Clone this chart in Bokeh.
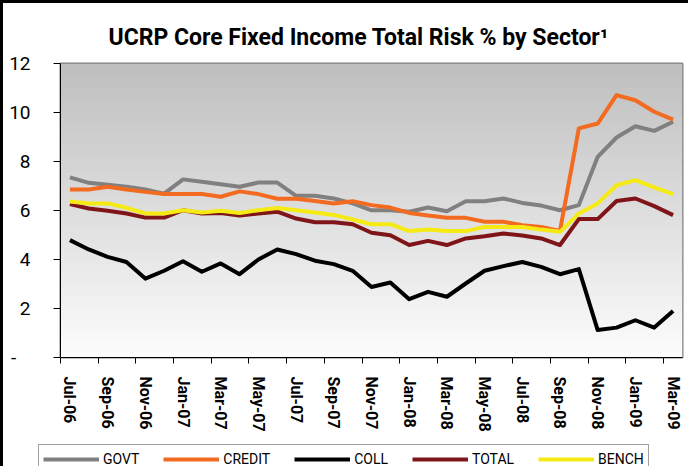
import numpy as np
from bokeh.plotting import figure
from bokeh.layouts import column, row
from bokeh.models import Range1d, FixedTicker, Legend, LegendItem, Spacer
from bokeh.embed import file_html
from bokeh.resources import INLINE

# ---------------- data ----------------
months = ["Jul-06", "Aug-06", "Sep-06", "Oct-06", "Nov-06", "Dec-06",
          "Jan-07", "Feb-07", "Mar-07", "Apr-07", "May-07", "Jun-07",
          "Jul-07", "Aug-07", "Sep-07", "Oct-07", "Nov-07", "Dec-07",
          "Jan-08", "Feb-08", "Mar-08", "Apr-08", "May-08", "Jun-08",
          "Jul-08", "Aug-08", "Sep-08", "Oct-08", "Nov-08", "Dec-08",
          "Jan-09", "Feb-09", "Mar-09"]

govt = [7.35, 7.13, 7.05, 6.97, 6.86, 6.69, 7.27, 7.17, 7.07, 6.97, 7.14, 7.14,
        6.60, 6.60, 6.49, 6.29, 6.01, 6.01, 5.95, 6.12, 5.97, 6.38, 6.38, 6.49,
        6.31, 6.20, 6.01, 6.22, 8.19, 8.98, 9.44, 9.25, 9.62]
credit = [6.86, 6.86, 6.97, 6.86, 6.76, 6.67, 6.67, 6.67, 6.56, 6.78, 6.67, 6.48,
          6.48, 6.39, 6.29, 6.38, 6.22, 6.12, 5.90, 5.80, 5.70, 5.70, 5.54, 5.54,
          5.40, 5.33, 5.17, 9.35, 9.55, 10.71, 10.50, 10.03, 9.71]
coll = [4.79, 4.41, 4.11, 3.90, 3.22, 3.54, 3.93, 3.50, 3.84, 3.40, 4.00, 4.41,
        4.22, 3.95, 3.81, 3.54, 2.88, 3.06, 2.38, 2.68, 2.48, 3.02, 3.54, 3.73,
        3.90, 3.70, 3.40, 3.61, 1.12, 1.22, 1.52, 1.22, 1.90]
total = [6.26, 6.08, 5.99, 5.88, 5.71, 5.71, 6.01, 5.88, 5.90, 5.80, 5.88, 5.95,
         5.67, 5.52, 5.52, 5.44, 5.09, 4.99, 4.59, 4.76, 4.59, 4.86, 4.95, 5.06,
         4.98, 4.86, 4.59, 5.65, 5.65, 6.39, 6.49, 6.18, 5.81]
bench = [6.37, 6.29, 6.29, 6.11, 5.88, 5.88, 6.01, 5.92, 5.99, 5.90, 6.01, 6.10,
         6.01, 5.92, 5.82, 5.63, 5.44, 5.44, 5.16, 5.22, 5.16, 5.16, 5.33, 5.33,
         5.33, 5.22, 5.13, 5.88, 6.29, 7.03, 7.24, 6.94, 6.67]

series_names = ["GOVT", "CREDIT", "COLL", "TOTAL", "BENCH"]
series_values = [govt, credit, coll, total, bench]
series_colors = ["#808080", "#F26B21", "#000000", "#7F1518", "#F5EA14"]

y_ticks = [0, 2, 4, 6, 8, 10, 12]
y_tick_labels = ["-\u00a0\u00a0\u00a0", "2", "4", "6", "8", "10", "12"]
title_text = "UCRP Core Fixed Income Total Risk % by Sector\u00b9"

# ---------------- main figure ----------------
W, HM = 685, 441
n = len(months)
xs = list(range(n))

p = figure(width=W, height=HM, output_backend="svg", toolbar_location=None,
           x_range=Range1d(-0.5, n - 0.5), y_range=Range1d(0, 12),
           min_border_left=57, min_border_right=6,
           min_border_top=60, min_border_bottom=87)
p.background_fill_color = "white"
p.border_fill_color = "white"
p.outline_line_color = "#808080"
p.outline_line_width = 2

# title
p.title.text = title_text
p.title.text_font = "Roboto"
p.title.text_font_style = "bold"
p.title.text_font_size = "23px"
p.title.text_color = "black"
p.title.align = "left"
p.title.offset = 48
p.title.standoff = 25

# gradient plot-area background (decoration)
N = 256
img = np.empty((N, 1), dtype=np.uint32)
view = img.view(dtype=np.uint8).reshape((N, 1, 4))
t = np.linspace(0.0, 1.0, N)
g = (253 - 62 * t).astype(np.uint8)
view[:, 0, 0] = g
view[:, 0, 1] = g
view[:, 0, 2] = g
view[:, 0, 3] = 255
p.image_rgba(image=[img], x=-0.5, y=0, dw=n, dh=12)

# grid
p.xgrid.visible = False
p.ygrid.ticker = FixedTicker(ticks=[2, 4, 6, 8, 10])
p.ygrid.grid_line_color = "black"
p.ygrid.grid_line_width = 1

# y axis
p.yaxis.ticker = FixedTicker(ticks=y_ticks)
p.yaxis.major_label_overrides = dict(zip(y_ticks, y_tick_labels))
p.yaxis.major_tick_out = 7
p.yaxis.major_tick_in = 0
p.yaxis.minor_tick_line_color = None
p.yaxis.axis_line_color = "black"
p.yaxis.major_tick_line_color = "black"
p.yaxis.major_label_text_font = "Roboto"
p.yaxis.major_label_text_font_size = "19px"
p.yaxis.major_label_text_color = "black"
p.yaxis.major_label_standoff = 23

# x axis
label_idx = list(range(0, n, 2))
boundaries = [i - 0.5 for i in label_idx]
p.xaxis.ticker = FixedTicker(ticks=label_idx, minor_ticks=boundaries)
p.xaxis.major_label_overrides = {i: months[i] for i in label_idx}
p.xaxis.major_tick_out = 0
p.xaxis.major_tick_in = 0
p.xaxis.minor_tick_out = 6
p.xaxis.minor_tick_in = 0
p.xaxis.minor_tick_line_color = "black"
p.xaxis.axis_line_color = "black"
p.xaxis.major_label_orientation = "vertical"
p.xaxis.major_label_text_font = "Roboto"
p.xaxis.major_label_text_font_style = "bold"
p.xaxis.major_label_text_font_size = "16px"
p.xaxis.major_label_text_color = "black"
p.xaxis.major_label_standoff = 13

# data lines
for name, vals, col in zip(series_names, series_values, series_colors):
    p.line(xs, vals, line_width=4, line_color=col, line_join="round")

# ---------------- legend strip ----------------
LW, LH = 616, 22
pl = figure(width=LW, height=LH, output_backend="svg", toolbar_location=None,
            x_range=Range1d(0, 1), y_range=Range1d(100, 101),
            x_axis_location=None, y_axis_location=None, min_border=0)
pl.xgrid.visible = False
pl.ygrid.visible = False
pl.outline_line_color = None
pl.background_fill_color = "white"
pl.border_fill_color = "white"

items = []
for name, vals, col in zip(series_names, series_values, series_colors):
    r = pl.line(xs, vals, line_width=4, line_color=col)
    items.append(LegendItem(label=name, renderers=[r]))

legend = Legend(items=items, orientation="horizontal", location="top_left",
                glyph_width=56, glyph_height=20, label_height=20,
                label_standoff=4, spacing=24,
                padding=4, margin=0, border_line_color="#444444",
                border_line_width=1, background_fill_color="white",
                background_fill_alpha=1.0,
                label_text_font="Roboto",
                label_text_font_size="14px", label_text_color="black")
pl.add_layout(legend)

layout = column(p, row(Spacer(width=35, height=LH), pl),
                styles={"border-left": "3px solid black",
                        "border-top": "3px solid black"})

open("out.html", "w").write(file_html(layout, INLINE))
